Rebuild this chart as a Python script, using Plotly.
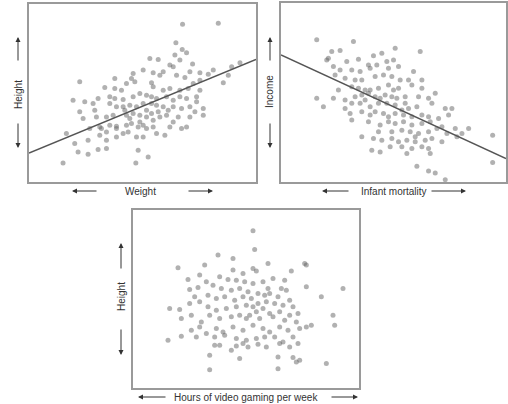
import plotly.graph_objects as go

W, H = 508, 404

# ---- Data (arbitrary units) ----
weight = [548,655,528,547,560,525,450,475,540,578,510,520,720,695,685,670,600,625,570,555,530,490,480,460,430,400,395,345,240,315,345,380,405,455,460,490,510,540,565,580,600,220,255,280,295,330,345,370,400,420,440,455,470,500,520,540,560,590,610,610,570,545,520,490,470,455,430,410,390,370,350,330,285,240,290,250,320,340,380,400,420,440,455,460,480,500,535,570,560,545,200,225,265,305,320,350,350,370,385,380,395,415,430,440,460,470,495,510,520,320,300,235,265,295,320,410,430,415,445,408,190,350,390,375,365,300,270,330,420,440,475,505,590,585,600,640]
height1 = [527,530,472,452,442,435,425,422,420,408,405,400,412,400,375,352,382,378,385,368,375,385,375,382,390,380,365,365,355,338,335,350,355,352,340,330,335,330,335,350,330,300,295,290,305,310,305,302,310,320,315,310,305,310,300,310,305,310,275,255,280,275,280,280,285,290,290,280,285,280,280,290,270,265,250,245,250,255,255,260,255,250,260,240,250,255,250,250,220,215,200,170,180,215,205,215,190,200,205,225,230,220,225,215,220,200,195,220,235,180,195,145,138,152,155,190,190,150,130,112,112,222,245,270,330,220,215,225,235,270,265,270,295,265,360,390]
fit1_x = [88, 768]
fit1_y = [142, 422]

infant_mortality = [185,295,420,495,230,255,215,220,275,310,355,380,395,415,340,365,235,255,290,315,345,400,430,475,240,270,300,320,360,385,410,435,460,500,290,310,330,345,370,400,430,470,500,540,185,235,270,300,320,340,360,375,390,410,425,450,490,520,205,270,290,315,345,370,395,420,440,460,485,530,570,590,285,320,345,360,385,400,420,445,470,500,520,550,580,290,340,375,400,420,445,470,500,525,560,600,640,370,410,440,465,490,520,545,575,620,320,355,380,410,430,455,480,510,530,560,605,712,350,375,405,440,470,500,525,520,485,520,540,570,712,455,330,415,250,450,480]
income = [480,475,455,445,445,448,420,425,415,422,432,440,415,420,405,405,400,390,390,385,395,395,400,385,375,365,360,360,370,375,370,360,360,360,340,335,330,330,335,345,335,345,335,320,305,305,300,310,315,320,310,305,315,310,305,310,310,305,280,275,290,290,280,290,290,285,270,275,280,290,275,275,260,265,255,265,260,250,260,255,250,255,250,245,255,240,235,225,235,230,235,225,230,235,220,215,215,205,205,210,205,200,205,215,200,200,190,185,180,185,175,180,175,180,185,175,190,195,150,145,160,160,155,160,140,155,102,88,82,62,113,140,300,330,330,290,190]
fit2_x = [78, 752]
fit2_y = [435, 125]

gaming_hours = [460,465,355,400,315,235,505,615,620,575,460,470,430,400,300,265,320,360,385,410,435,460,490,520,555,560,545,620,730,665,270,295,340,365,395,420,445,475,495,510,535,570,285,300,325,350,375,405,430,455,475,500,525,550,580,210,240,270,325,350,380,410,440,460,470,490,510,540,570,595,700,245,275,305,330,360,395,420,450,480,520,555,590,635,705,275,300,350,370,400,430,460,490,510,540,565,600,620,205,245,290,320,345,375,410,440,470,495,525,550,580,595,345,360,410,430,475,500,540,570,395,330,420,535,580,600,590,680,330,535,445,505,440]
height3 = [508,452,435,425,405,397,410,410,405,387,395,387,380,390,375,362,355,370,362,360,355,350,355,365,360,330,335,340,335,310,332,338,345,335,330,335,325,320,315,320,310,300,310,295,315,305,310,300,310,305,290,295,290,285,280,275,272,290,280,270,275,280,285,280,265,275,260,265,255,260,255,245,255,235,255,245,250,255,255,245,250,240,235,225,225,210,220,215,205,220,210,225,215,205,220,210,215,220,180,192,190,200,190,195,185,180,185,190,190,175,190,170,165,165,163,170,168,160,170,160,150,135,125,130,128,120,115,110,92,95,160,335,245]

x_labels = ["Weight", "Infant mortality", "Hours of video gaming per week"]
y_labels = ["Height", "Income", "Height"]

# ---- Figure ----
def px(x):
    return x / W

def py(y):
    return 1 - y / H

fig = go.Figure()
mk = dict(size=5, color="rgba(100,100,100,0.5)", line=dict(width=0))
fig.add_trace(go.Scatter(x=weight, y=height1, mode="markers", marker=mk, xaxis="x", yaxis="y"))
fig.add_trace(go.Scatter(x=fit1_x, y=fit1_y, mode="lines", line=dict(color="#555", width=1.5), xaxis="x", yaxis="y"))
fig.add_trace(go.Scatter(x=infant_mortality, y=income, mode="markers", marker=mk, xaxis="x2", yaxis="y2"))
fig.add_trace(go.Scatter(x=fit2_x, y=fit2_y, mode="lines", line=dict(color="#555", width=1.5), xaxis="x2", yaxis="y2"))
fig.add_trace(go.Scatter(x=gaming_hours, y=height3, mode="markers", marker=mk, xaxis="x3", yaxis="y3"))

ax_common = dict(showticklabels=False, ticks="", showgrid=False, zeroline=False,
                 showline=True, mirror=True, linecolor="#9a9a9a", linewidth=2)

fig.update_layout(
    width=W, height=H, margin=dict(l=0, r=0, t=0, b=0),
    paper_bgcolor="white", plot_bgcolor="white", showlegend=False,
    xaxis=dict(domain=[px(29), px(256)], range=[88, 768], anchor="y", **ax_common),
    yaxis=dict(domain=[py(182), py(4)], range=[55, 588], anchor="x", **ax_common),
    xaxis2=dict(domain=[px(281), px(506)], range=[78, 752], anchor="y2", **ax_common),
    yaxis2=dict(domain=[py(182), py(3)], range=[55, 590], anchor="x2", **ax_common),
    xaxis3=dict(domain=[px(133), px(359)], range=[100, 778], anchor="y3", **ax_common),
    yaxis3=dict(domain=[py(388), py(210)], range=[37, 570], anchor="x3", **ax_common),
)

font = dict(family="Liberation Sans, Arial, sans-serif", size=10, color="#333")
ann = []

def label(text, x, y, rot=0):
    ann.append(dict(text=text, x=px(x), y=py(y), xref="paper", yref="paper",
                    showarrow=False, textangle=rot, font=font,
                    xanchor="center", yanchor="middle"))

def arrow(hx, hy, tx, ty):
    ann.append(dict(text="", x=px(hx), y=py(hy), xref="paper", yref="paper",
                    ax=tx - hx, ay=ty - hy, axref="pixel", ayref="pixel",
                    showarrow=True, arrowhead=2, arrowsize=1, arrowwidth=1,
                    arrowcolor="#333"))

# Panel 1
label(x_labels[0], 140, 191)
arrow(72, 191, 98, 191)
arrow(213, 191, 187, 191)
label(y_labels[0], 18, 95, -90)
arrow(18, 37, 18, 62)
arrow(18, 148, 18, 122)
# Panel 2
label(x_labels[1], 394, 191)
arrow(322, 191, 350, 191)
arrow(466, 191, 430, 191)
label(y_labels[1], 270, 92, -90)
arrow(270, 37, 270, 62)
arrow(270, 148, 270, 122)
# Panel 3
label(x_labels[2], 246, 397)
arrow(138, 397, 167, 397)
arrow(358, 397, 330, 397)
label(y_labels[2], 121, 297, -90)
arrow(121, 243, 121, 270)
arrow(121, 355, 121, 328)

fig.update_layout(annotations=ann)
fig.write_html("out.html",
               config={"displayModeBar": False},
               post_script="document.body.style.margin='0';document.body.style.overflow='hidden';")
